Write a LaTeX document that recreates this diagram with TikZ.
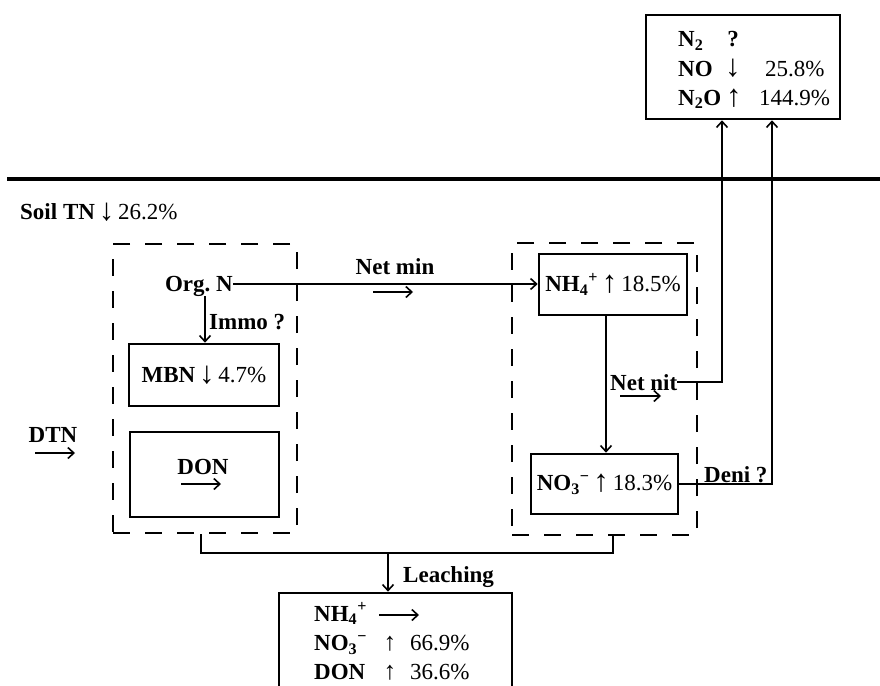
\documentclass[tikz,border=0pt]{standalone}
\usepackage{fontspec}
\usepackage{graphicx}
\setmainfont{Liberation Serif}
\usetikzlibrary{arrows.meta}
\newcommand\myup[2][1.35]{\raisebox{#2}{\scalebox{#1}{↑}}}
\newcommand\mydown[2][1.35]{\raisebox{#2}{\scalebox{#1}{↓}}}
\begin{document}
\begin{tikzpicture}[x=1pt,y=-1pt,
  txt/.style={inner sep=0pt, text height=17pt, text depth=3pt, font=\fontsize{23}{27}\selectfont},
  lbl/.style={inner sep=0pt, text height=17pt, text depth=3pt, font=\fontsize{23}{27}\selectfont\bfseries},
  solidbox/.style={draw, line width=2.6pt, inner sep=0pt, font=\fontsize{23}{27}\selectfont},
  dashbox/.style={draw, line width=2.6pt, dash pattern=on 17pt off 15pt, inner sep=0pt},
  conn/.style={line width=1.6pt},
  tip/.style={-{Straight Barb[length=6pt,width=11pt,line width=1.6pt]}},
  ]
\frenchspacing
\clip (0,0) rectangle (880,685);
\fill[white] (0,0) rectangle (880,685);

% ground line
\coordinate (gl) at (7,179);
\coordinate (gr) at (880,179);
\draw[line width=4.2pt] (gl) -- (gr);

% boxes
\node[dashbox, minimum width=184pt, minimum height=289pt] (ldash) at (205,388.5) {};
\node[dashbox, minimum width=185pt, minimum height=292pt] (rdash) at (604.5,389) {};
\node[solidbox, minimum width=194pt, minimum height=104pt] (top) at (743,67) {};
\node[solidbox, minimum width=150pt, minimum height=62pt] (mbn) at (204,375)
  {\textbf{MBN}\,\mydown{-1pt}\,4.7\%};
\node[solidbox, minimum width=149pt, minimum height=85pt] (don) at (204.5,474.5) {};
\node[solidbox, minimum width=148pt, minimum height=61pt] (nh4) at (613,284.5)
  {\textbf{NH\textsubscript{4}\textsuperscript{+}}\,\myup{-1pt}\,18.5\%};
\node[solidbox, minimum width=147pt, minimum height=60pt] (no3) at (604.5,484)
  {\textbf{NO\textsubscript{3}\textsuperscript{−}}\,\myup{-1pt}\,18.3\%};
\node[solidbox, minimum width=233pt, minimum height=117pt] (bot) at (395.5,651.5) {};

% top box text
\node[lbl, anchor=west] (tn2) at (678,40) {N\textsubscript{2}};
\node[lbl] (tq) at (733,40) {?};
\node[lbl, anchor=west] (tno) at (678,70) {NO};
\node[txt] (tnoa) at (733,69) {\mydown{-1pt}};
\node[txt, anchor=west] (tnov) at (765,70) {25.8\%};
\node[lbl, anchor=west] (tn2o) at (678,98) {N\textsubscript{2}O};
\node[txt] (tn2oa) at (734,99) {\myup{-1pt}};
\node[txt, anchor=west] (tn2ov) at (759,98) {144.9\%};

% labels
\node[lbl, anchor=west] (soil) at (20,212) {Soil TN\,\mdseries\mydown{-1pt}\,26.2\%};
\node[lbl, anchor=east] (orgn) at (233,284) {Org. N};
\node[lbl] (netmin) at (395,267.5) {Net min};
\node[lbl, anchor=west] (immo) at (209,322) {Immo ?};
\node[lbl] (dtn) at (53,435) {DTN};
\node[lbl] (dontxt) at (203,467) {DON};
\node[lbl, anchor=west] (netnit) at (610,383) {Net nit};
\node[lbl, anchor=west] (deni) at (704,475) {Deni ?};
\node[lbl, anchor=west] (leach) at (403,575) {Leaching};

% bottom box text
\node[lbl, anchor=west] (bnh4) at (314,614) {NH\textsubscript{4}\textsuperscript{+}};
\node[lbl, anchor=west] (bno3) at (314,643.5) {NO\textsubscript{3}\textsuperscript{−}};
\node[txt] (bno3a) at (390,643.5) {\myup[1.1]{0pt}};
\node[txt, anchor=west] (bno3v) at (410,643.5) {66.9\%};
\node[lbl, anchor=west] (bdon) at (314,672) {DON};
\node[txt] (bdona) at (390,672) {\myup[1.1]{0pt}};
\node[txt, anchor=west] (bdonv) at (410,672) {36.6\%};

% "no change" arrows
\coordinate (a1s) at (373,292); \coordinate (a1e) at (413,292);
\coordinate (a2s) at (35,453);  \coordinate (a2e) at (75,453);
\coordinate (a3s) at (181,484); \coordinate (a3e) at (221,484);
\coordinate (a4s) at (620,396); \coordinate (a4e) at (661,396);
\coordinate (a5s) at (379,615); \coordinate (a5e) at (419,615);
\foreach \s/\e in {a1s/a1e,a2s/a2e,a3s/a3e,a4s/a4e,a5s/a5e}
  \draw[conn,tip] (\s) -- (\e);

% connectors
\draw[conn,tip] (orgn.east) -- (orgn.east -| nh4.west);
\coordinate (im) at (205,296);
\draw[conn,tip] (im) -- (im |- mbn.north);
\coordinate (nv) at (606,0);
\draw[conn,tip] (nv |- nh4.south) -- (nv |- no3.north);
\coordinate (nn) at (722,382);
\draw[conn,tip] (netnit.east |- nn) -- (nn) -- (nn |- top.south);
\coordinate (dn) at (772,0);
\draw[conn,tip] (no3.east) -- (dn |- no3.east) -- (dn |- top.south);
\coordinate (bl) at (201,553);
\coordinate (br) at (613,553);
\coordinate (bm) at (388,553);
\draw[conn] (bl |- ldash.south) -- (bl) -- (br) -- (br |- rdash.south);
\draw[conn,tip] (bm) -- (bm |- bot.north);
\end{tikzpicture}
\end{document}
